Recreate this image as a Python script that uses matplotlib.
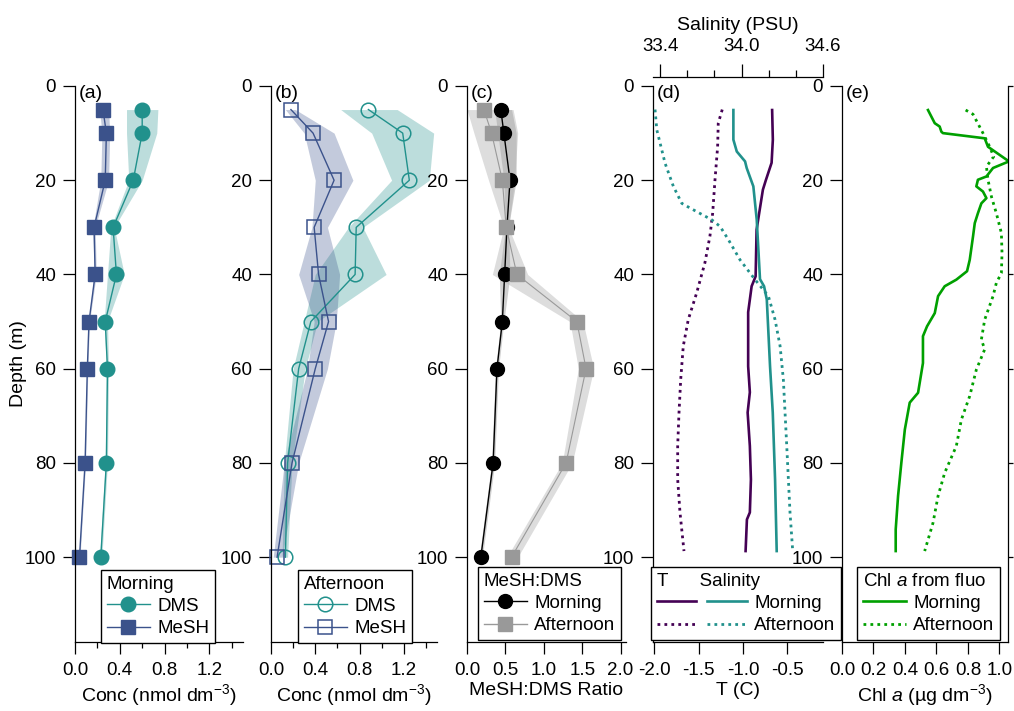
import matplotlib
matplotlib.use("Agg")
import matplotlib.pyplot as plt
from matplotlib.lines import Line2D
from matplotlib.legend_handler import HandlerTuple
from matplotlib.ticker import FixedLocator, FormatStrFormatter

plt.rcParams['font.family'] = ['Liberation Sans', 'DejaVu Sans']
plt.rcParams['mathtext.fontset'] = 'custom'
plt.rcParams['mathtext.rm'] = 'Liberation Sans'
plt.rcParams['mathtext.it'] = 'Liberation Sans:italic'

# ---------------- data ----------------
depths = [5, 10, 20, 30, 40, 50, 60, 80, 100]

# (a) morning
a_dms = [0.60, 0.60, 0.52, 0.34, 0.37, 0.27, 0.29, 0.28, 0.23]
a_dms_lo = [0.46, 0.46, 0.48, 0.32, 0.29, 0.26, 0.28, 0.27, 0.22]
a_dms_hi = [0.74, 0.73, 0.60, 0.35, 0.44, 0.29, 0.30, 0.29, 0.24]
a_mesh = [0.25, 0.28, 0.27, 0.17, 0.18, 0.125, 0.11, 0.09, 0.04]
a_mesh_lo = [0.22, 0.24, 0.23, 0.16, 0.17, 0.12, 0.105, 0.085, 0.035]
a_mesh_hi = [0.30, 0.31, 0.30, 0.18, 0.19, 0.13, 0.115, 0.095, 0.045]

# (b) afternoon
b_dms = [0.88, 1.19, 1.25, 0.77, 0.76, 0.36, 0.25, 0.15, 0.13]
b_dms_lo = [0.63, 0.91, 1.09, 0.70, 0.40, 0.30, 0.20, 0.12, 0.10]
b_dms_hi = [1.14, 1.47, 1.43, 0.83, 1.04, 0.42, 0.31, 0.19, 0.15]
b_mesh = [0.18, 0.38, 0.57, 0.39, 0.43, 0.52, 0.40, 0.19, 0.055]
b_mesh_lo = [0.13, 0.30, 0.40, 0.37, 0.25, 0.39, 0.33, 0.12, 0.02]
b_mesh_hi = [0.22, 0.57, 0.74, 0.51, 0.62, 0.59, 0.51, 0.25, 0.10]

# (c) MeSH:DMS ratio
c_morn = [0.44, 0.48, 0.56, 0.52, 0.49, 0.46, 0.39, 0.34, 0.18]
c_morn_lo = [0.36, 0.40, 0.48, 0.50, 0.42, 0.44, 0.37, 0.32, 0.16]
c_morn_hi = [0.58, 0.64, 0.64, 0.54, 0.56, 0.48, 0.41, 0.36, 0.20]
c_aft = [0.22, 0.32, 0.46, 0.51, 0.65, 1.43, 1.55, 1.29, 0.58]
c_aft_lo = [0.00, 0.09, 0.28, 0.48, 0.33, 1.34, 1.45, 1.24, 0.52]
c_aft_hi = [0.60, 0.66, 0.62, 0.54, 0.79, 1.51, 1.65, 1.37, 0.66]

# (d) temperature and salinity profiles
T_m_depth = [5.1, 11.4, 16.3, 20, 22, 27, 30.5, 40.4, 42.5, 48, 59.5, 65, 69.3, 76.4, 83.5, 90.5, 92, 98.7]
T_m = [-0.673, -0.665, -0.679, -0.744, -0.777, -0.819, -0.848, -0.859, -0.904, -0.943,
       -0.943, -0.924, -0.949, -0.924, -0.912, -0.924, -0.957, -0.972]
T_a_depth = [5, 7.9, 12.9, 20, 27, 31.9, 37.5, 43.9, 49.6, 55.2, 62.3, 69.3, 76.4, 83.5, 90.5, 98.7]
T_a = [-1.235, -1.28, -1.287, -1.317, -1.343, -1.374, -1.43, -1.523, -1.618, -1.674,
       -1.703, -1.722, -1.737, -1.737, -1.711, -1.666]
S_m_depth = [5.1, 11.4, 13.9, 16, 17.4, 21.3, 28.4, 41, 42.5, 45.3, 59.5, 69.3, 83.5, 98.7]
S_m = [33.94, 33.94, 33.965, 34.026, 34.038, 34.087, 34.112, 34.136, 34.166, 34.186,
       34.21, 34.23, 34.247, 34.259]
S_a_depth = [5, 9.3, 16.4, 21.3, 24.9, 25.9, 28.4, 29.8, 32.6, 36.9, 41.1, 44.6, 49.6,
             55.2, 62.3, 76.4, 90.5, 98.7]
S_a = [33.363, 33.376, 33.437, 33.498, 33.56, 33.621, 33.781, 33.842, 33.903, 33.989,
       34.10, 34.198, 34.247, 34.284, 34.308, 34.333, 34.357, 34.377]

# (e) chlorophyll a
chl_m_depth = [5.1, 7.9, 8.6, 9.7, 10, 11.1, 12.9, 16, 17.4, 19.2, 19.9, 21.3, 22.4, 23.8,
               24.9, 27, 29.1, 31.9, 36.9, 39.3, 41.1, 42.5, 44.6, 48.2, 51, 53.1, 58.8,
               65.1, 67.2, 72.9, 79.9, 87, 94.1, 98.7]
chl_m = [0.546, 0.589, 0.62, 0.631, 0.641, 0.906, 0.927, 1.06, 0.959, 0.917, 0.863, 0.853,
         0.895, 0.917, 0.885, 0.863, 0.843, 0.832, 0.811, 0.794, 0.726, 0.652, 0.61, 0.589,
         0.54, 0.514, 0.514, 0.483, 0.43, 0.399, 0.377, 0.356, 0.341, 0.341]
chl_a_depth = [5.1, 6, 10, 12.9, 15, 17.1, 19.9, 23.5, 27, 31.2, 35.5, 39.7, 41.8, 44.6,
               49.6, 53.8, 55.9, 60.2, 65.8, 70.8, 76.4, 82.1, 87, 92.7, 98.7]
chl_a = [0.785, 0.832, 0.895, 0.938, 0.963, 0.917, 0.927, 0.949, 0.98, 1.012, 1.016, 1.012,
         0.98, 0.959, 0.906, 0.885, 0.906, 0.853, 0.811, 0.758, 0.726, 0.652, 0.61, 0.578,
         0.525]

# ---------------- styling ----------------
TEAL = '#21918c'
NAVY = '#3b528b'
PURPLE = '#440154'
GREEN = '#00a000'
GRAY = '#999999'
DOT = (0, (1, 1.5))

W, H = 1014, 711
fig = plt.figure(figsize=(W / 100, H / 100), dpi=100)

Y_TOP, Y_BOT = 86, 642
FS_TICK = 13.5
FS_LAB = 14
FS_LEG = 13.5


def make_ax(x0, x1):
    return fig.add_axes([x0 / W, (H - Y_BOT) / H, (x1 - x0) / W, (Y_BOT - Y_TOP) / H])


def style(ax, label, xlabel, right=False):
    ax.set_ylim(118, 0)
    ax.set_yticks([0, 20, 40, 60, 80, 100])
    for s in ['top', 'right']:
        ax.spines[s].set_visible(False)
    if right:
        ax.spines['right'].set_visible(True)
    for s in ax.spines.values():
        s.set_linewidth(0.9)
    ax.tick_params(axis='y', which='major', direction='out', length=8.6, width=0.9,
                   pad=5, labelsize=FS_TICK)
    ax.tick_params(axis='x', which='major', direction='out', length=8.6, width=0.9,
                   pad=6, labelsize=FS_TICK)
    ax.tick_params(axis='x', which='minor', direction='out', length=4.3, width=0.9)
    ax.set_xlabel(xlabel, fontsize=FS_LAB, labelpad=2)
    ax.annotate(label, xy=(0, 1), xycoords='axes fraction', xytext=(2.5, 1),
                textcoords='offset points', ha='left', va='top', fontsize=FS_LAB)
    ax.patch.set_alpha(0)


def make_legend(handles, labels, title, x0, y0, **kw):
    opts = dict(loc='upper left', bbox_to_anchor=(x0 / W, 1 - y0 / H), frameon=True,
                fancybox=False, edgecolor='black', framealpha=1, fontsize=FS_LEG,
                title_fontsize=FS_LEG, borderpad=0.3, labelspacing=0.28,
                handlelength=2.3, handletextpad=0.4, borderaxespad=0, alignment='left')
    opts.update(kw)
    leg = fig.legend(handles, labels, title=title, **opts)
    leg.get_frame().set_linewidth(1.0)
    return leg


# ---------------- (a) ----------------
axa = make_ax(75, 243)
axa.fill_betweenx(depths, a_dms_lo, a_dms_hi, color=TEAL, alpha=0.3, lw=0)
axa.fill_betweenx(depths, a_mesh_lo, a_mesh_hi, color=NAVY, alpha=0.3, lw=0)
axa.plot(a_dms, depths, '-o', color=TEAL, lw=1, ms=10.5, mec=TEAL, clip_on=False)
axa.plot(a_mesh, depths, '-s', color=NAVY, lw=1, ms=9.5, mec=NAVY, clip_on=False)
axa.set_xlim(0, 1.5)
axa.xaxis.set_major_locator(FixedLocator([0, 0.4, 0.8, 1.2]))
axa.xaxis.set_minor_locator(FixedLocator([0.2, 0.6, 1.0, 1.4]))
axa.xaxis.set_major_formatter(FormatStrFormatter('%.1f'))
style(axa, '(a)', 'Conc (nmol dm$^{-3}$)')
axa.set_ylabel('Depth (m)', fontsize=FS_LAB)
axa.yaxis.set_label_coords((27 - 75) / 168, 0.5)
make_legend([Line2D([], [], color=TEAL, marker='o', ms=10.5, lw=1),
             Line2D([], [], color=NAVY, marker='s', ms=9.5, lw=1)],
            ['DMS', 'MeSH'], 'Morning', 101, 570)

# ---------------- (b) ----------------
axb = make_ax(271, 437)
axb.fill_betweenx(depths, b_dms_lo, b_dms_hi, color=TEAL, alpha=0.3, lw=0)
axb.fill_betweenx(depths, b_mesh_lo, b_mesh_hi, color=NAVY, alpha=0.3, lw=0)
axb.plot(b_dms, depths, '-o', color=TEAL, lw=1, ms=10.5, mfc='none', mec=TEAL, mew=1.1,
         clip_on=False)
axb.plot(b_mesh, depths, '-s', color=NAVY, lw=1, ms=10, mfc='none', mec=NAVY, mew=1.1,
         clip_on=False)
axb.set_xlim(0, 1.5)
axb.xaxis.set_major_locator(FixedLocator([0, 0.4, 0.8, 1.2]))
axb.xaxis.set_minor_locator(FixedLocator([0.2, 0.6, 1.0, 1.4]))
axb.xaxis.set_major_formatter(FormatStrFormatter('%.1f'))
style(axb, '(b)', 'Conc (nmol dm$^{-3}$)')
make_legend([Line2D([], [], color=TEAL, marker='o', ms=10.5, lw=1, mfc='none', mew=1.1),
             Line2D([], [], color=NAVY, marker='s', ms=10, lw=1, mfc='none', mew=1.1)],
            ['DMS', 'MeSH'], 'Afternoon', 298, 570)

# ---------------- (c) ----------------
axc = make_ax(467, 626)
axc.fill_betweenx(depths, c_morn_lo, c_morn_hi, color='#777777', alpha=0.35, lw=0)
axc.plot(c_morn, depths, '-o', color='black', lw=1, ms=10, clip_on=False)
axc.fill_betweenx(depths, c_aft_lo, c_aft_hi, color='#aaaaaa', alpha=0.4, lw=0)
axc.plot(c_aft, depths, '-s', color=GRAY, lw=0.8, ms=9.5, clip_on=False)
axc.set_xlim(0, 2.07)
axc.xaxis.set_major_locator(FixedLocator([0, 0.5, 1.0, 1.5, 2.0]))
axc.xaxis.set_major_formatter(FormatStrFormatter('%.1f'))
style(axc, '(c)', 'MeSH:DMS Ratio')
make_legend([Line2D([], [], color='black', marker='o', ms=10, lw=1),
             Line2D([], [], color=GRAY, marker='s', ms=9.5, lw=1)],
            ['Morning', 'Afternoon'], 'MeSH:DMS', 478, 567)

# ---------------- (d) ----------------
axd = make_ax(653, 823)
axd.plot(T_m, T_m_depth, '-', color=PURPLE, lw=1.9)
axd.plot(T_a, T_a_depth, color=PURPLE, lw=2.0, ls=DOT)
axd.set_xlim(-2.015, -0.10)
axd.xaxis.set_major_locator(FixedLocator([-2.0, -1.5, -1.0, -0.5]))
axd.xaxis.set_major_formatter(FormatStrFormatter('%.1f'))
style(axd, '(d)', 'T (C)')
axd2 = axd.twiny()
axd2.plot(S_m, S_m_depth, '-', color=TEAL, lw=1.9)
axd2.plot(S_a, S_a_depth, color=TEAL, lw=2.0, ls=DOT)
axd2.set_xlim(33.348, 34.6)
axd2.set_ylim(118, 0)
for s in ['left', 'right', 'bottom']:
    axd2.spines[s].set_visible(False)
axd2.spines['top'].set_position(('outward', 6.5))
axd2.spines['top'].set_linewidth(0.9)
axd2.xaxis.set_major_locator(FixedLocator([33.4, 34.0, 34.6]))
axd2.xaxis.set_minor_locator(FixedLocator([33.6, 33.8, 34.2, 34.4]))
axd2.xaxis.set_major_formatter(FormatStrFormatter('%.1f'))
axd2.tick_params(axis='x', which='major', direction='out', length=9.5, width=0.9,
                 pad=6, labelsize=FS_TICK)
axd2.tick_params(axis='x', which='minor', direction='out', length=5, width=0.9)
axd2.set_xlabel('Salinity (PSU)', fontsize=FS_LAB, labelpad=6)
axd2.patch.set_alpha(0)
lt_m = Line2D([], [], color=PURPLE, lw=1.9)
ls_m = Line2D([], [], color=TEAL, lw=1.9)
lt_a = Line2D([], [], color=PURPLE, lw=2.0, ls=DOT)
ls_a = Line2D([], [], color=TEAL, lw=2.0, ls=DOT)
make_legend([(lt_m, ls_m), (lt_a, ls_a)], ['Morning', 'Afternoon'],
            'T      Salinity', 651, 567, handlelength=4.8,
            handler_map={tuple: HandlerTuple(ndivide=None, pad=0.6)})

# ---------------- (e) ----------------
axe = make_ax(842, 1008)
axe.plot(chl_m, chl_m_depth, '-', color=GREEN, lw=1.9)
axe.plot(chl_a, chl_a_depth, color=GREEN, lw=2.0, ls=DOT)
axe.set_xlim(0, 1.054)
axe.xaxis.set_major_locator(FixedLocator([0, 0.2, 0.4, 0.6, 0.8, 1.0]))
axe.xaxis.set_major_formatter(FormatStrFormatter('%.1f'))
style(axe, '(e)', 'Chl $a$ (µg dm$^{-3}$)', right=True)
axe.tick_params(axis='y', which='major', right=True, labelright=False)
for t in axe.yaxis.get_major_ticks():
    t.tick2line.set_markersize(3.6)
make_legend([Line2D([], [], color=GREEN, lw=1.9),
             Line2D([], [], color=GREEN, lw=2.0, ls=DOT)],
            ['Morning', 'Afternoon'], 'Chl $a$ from fluo', 857, 567)

fig.savefig('out.png', dpi=100)
